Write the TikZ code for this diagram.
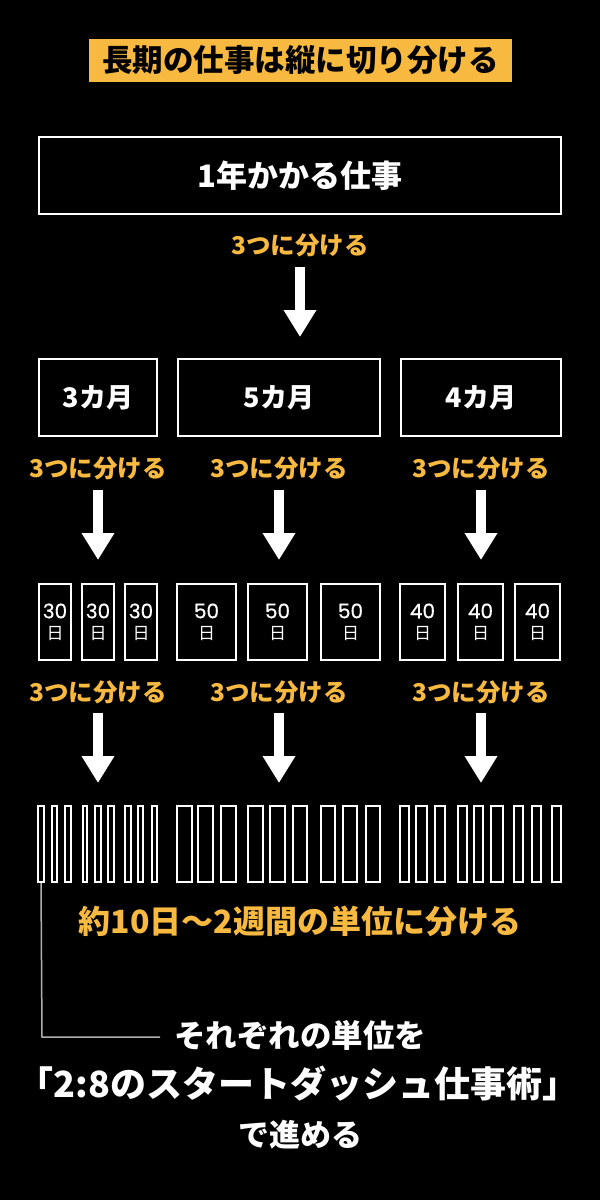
\documentclass[tikz,border=0pt]{standalone}
\usepackage{fontspec}
\newfontfamily\jp{Noto Sans CJK JP}
\newfontfamily\num{Poppins}[FakeBold=0.6]
\usetikzlibrary{arrows.meta}
\definecolor{ylw}{HTML}{F7B940}
\definecolor{lgray}{HTML}{B0B0B0}
\tikzset{
  bigbox/.style={draw=white, line width=2pt, text=white, inner sep=0pt,
    font=\jp\bfseries\fontsize{27}{27}\selectfont},
  daybox/.style={draw=white, line width=2pt, text=white, inner sep=0pt,
    minimum height=76pt, align=center, font=\fontsize{20}{21}\selectfont},
  bar/.style={draw=white, line width=2pt, inner sep=0pt, minimum height=76pt},
  split/.style={text=ylw, inner sep=0pt, font=\jp\bfseries\fontsize{24.5}{24.5}\selectfont},
  bigarrow/.style={draw=white, line width=10pt, -{Triangle[width=31pt,length=27pt]}},
  msg/.style={text=white, inner sep=0pt, font=\jp\bfseries\fontsize{31}{31}\selectfont},
}
\newcommand\daytext[1]{{\num #1}\\{\jp\fontsize{17}{21}\selectfont 日}}
\begin{document}
\begin{tikzpicture}[x=1pt,y=-1pt]
\fill[black] (0,0) rectangle (600,1200);
\useasboundingbox (0,0) rectangle (600,1200);

% title
\node[fill=ylw, minimum width=423pt, minimum height=43pt, inner sep=0pt,
  font=\jp\bfseries\fontsize{30.5}{30.5}\selectfont] (title) at (300.5,60.5) {長期の仕事は縦に切り分ける};

% top box
\node[bigbox, minimum width=522pt, minimum height=77pt, font=\jp\bfseries\fontsize{31}{31}\selectfont] (year) at (300,175.5) {1年かかる仕事};
\node[split] (s0) at (300,245) {3つに分ける};
\coordinate (a0s) at (300,267); \coordinate (a0e) at (300,337);
\draw[bigarrow] (a0s) -- (a0e);

% months
\node[bigbox, minimum width=118pt, minimum height=77pt] (m3) at (98,397.5) {3カ月};
\node[bigbox, minimum width=202pt, minimum height=77pt] (m5) at (279,397.5) {5カ月};
\node[bigbox, minimum width=160pt, minimum height=77pt] (m4) at (481,397.5) {4カ月};

\foreach \n/\x in {1/98, 2/279, 3/481}{
  \node[split] (s1\n) at (\x,468) {3つに分ける};
  \coordinate (a1s\n) at (\x,490); \coordinate (a1e\n) at (\x,560);
  \draw[bigarrow] (a1s\n) -- (a1e\n);
  \node[split] (s2\n) at (\x,692) {3つに分ける};
  \coordinate (a2s\n) at (\x,713); \coordinate (a2e\n) at (\x,783);
  \draw[bigarrow] (a2s\n) -- (a2e\n);
}

% day boxes
\foreach \i/\x in {1/55, 2/98, 3/141}
  \node[daybox, minimum width=32pt] (d30\i) at (\x,622) {\daytext{30}};
\foreach \i/\x in {1/206.5, 2/277.5, 3/350.5}
  \node[daybox, minimum width=59pt] (d50\i) at (\x,622) {\daytext{50}};
\foreach \i/\x in {1/422.5, 2/480.5, 3/537.5}
  \node[daybox, minimum width=45pt] (d40\i) at (\x,622) {\daytext{40}};

% bars
\foreach \i/\a/\b in {1/37/45, 2/51/58, 3/64/72, 4/82/88, 5/94/102, 6/107/115, 7/124/132, 8/137/144, 9/151/158,
  10/176/193, 11/197/214, 12/220/237, 13/247/264, 14/269/286, 15/292/308, 16/320/336, 17/342/358, 18/365/381,
  19/399/410, 20/415/428, 21/434/446, 22/457/468, 23/473/484, 24/490/504, 25/513/524, 26/531/542, 27/551/562}
  \node[bar, minimum width={\b-\a-2}] (b\i) at ({(\a+\b)/2},844) {};

\node[text=ylw, inner sep=0pt, font=\jp\bfseries\fontsize{32}{32}\selectfont] (unit) at (300,921) {約10日〜2週間の単位に分ける};

% bottom message
\node[msg, font=\jp\bfseries\fontsize{31.5}{31.5}\selectfont] (msg1) at (300,1035) {それぞれの単位を};
\node[msg, font=\jp\bfseries\fontsize{36}{36}\selectfont] (msg2) at (298,1084) {「2:8のスタートダッシュ仕事術」};
\node[msg] (msg3) at (300,1135) {で進める};

\coordinate (bend) at (42,1037);
\coordinate (lend) at (160,1037);
\draw[lgray, line width=1.5pt] (b1.south) -- (bend) -- (lend);
\end{tikzpicture}
\end{document}
